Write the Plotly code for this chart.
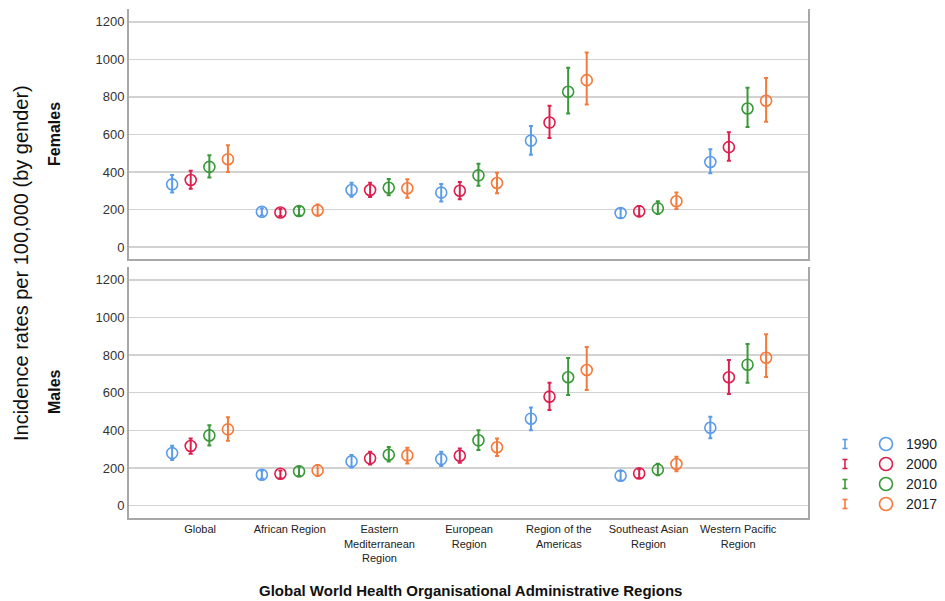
import plotly.graph_objects as go

# ---------------- data ----------------
regions = ["Global", "African Region", "Eastern<br>Mediterranean<br>Region",
           "European<br>Region", "Region of the<br>Americas",
           "Southeast Asian<br>Region", "Western Pacific<br>Region"]
years = ["1990", "2000", "2010", "2017"]
colors = ["#5b9be8", "#dc1f4e", "#3a983a", "#f47a3c"]
y_ticks = [0, 200, 400, 600, 800, 1000, 1200]

# Females (mean, lower CI, upper CI)
f1990 = [334, 188, 304, 290, 567, 181, 453]
f1990_lo = [290, 168, 268, 242, 492, 155, 393]
f1990_hi = [384, 206, 343, 336, 645, 206, 521]
f2000 = [357, 184, 304, 300, 663, 190, 532]
f2000_lo = [311, 166, 266, 254, 581, 164, 459]
f2000_hi = [407, 202, 343, 347, 752, 219, 612]
f2010 = [427, 192, 316, 382, 827, 206, 738]
f2010_lo = [370, 168, 276, 327, 711, 176, 640]
f2010_hi = [489, 215, 363, 444, 955, 244, 848]
f2017 = [468, 196, 313, 341, 889, 244, 779]
f2017_lo = [400, 167, 263, 286, 759, 203, 667]
f2017_hi = [542, 226, 361, 396, 1036, 290, 901]

# Males (mean, lower CI, upper CI)
m1990 = [279, 164, 235, 247, 462, 159, 414]
m1990_lo = [242, 143, 203, 210, 400, 134, 358]
m1990_hi = [318, 187, 269, 286, 522, 184, 472]
m2000 = [317, 169, 251, 265, 579, 171, 682]
m2000_lo = [276, 145, 219, 228, 508, 146, 593]
m2000_hi = [357, 187, 286, 304, 653, 193, 774]
m2010 = [373, 182, 270, 347, 682, 191, 749]
m2010_lo = [320, 157, 235, 295, 588, 161, 653]
m2010_hi = [427, 207, 311, 400, 785, 222, 859]
m2017 = [405, 187, 267, 310, 721, 221, 786]
m2017_lo = [345, 157, 224, 263, 615, 182, 684]
m2017_hi = [469, 216, 308, 357, 843, 260, 911]

females = [(f1990, f1990_lo, f1990_hi), (f2000, f2000_lo, f2000_hi),
           (f2010, f2010_lo, f2010_hi), (f2017, f2017_lo, f2017_hi)]
males = [(m1990, m1990_lo, m1990_hi), (m2000, m2000_lo, m2000_hi),
         (m2010, m2010_lo, m2010_hi), (m2017, m2017_lo, m2017_hi)]

# ---------------- figure ----------------
W, H = 945, 601
L, R, T, B = 129, 137, 9, 83
plot_w = W - L - R
plot_h = H - T - B

offsets = [-0.311, -0.104, 0.104, 0.311]
fig = go.Figure()

for panel, (data, xa, ya) in enumerate([(females, "x", "y"), (males, "x2", "y2")]):
    for k, (mean, lo, hi) in enumerate(data):
        xs = [i + offsets[k] for i in range(len(regions))]
        fig.add_trace(go.Scatter(
            x=xs, y=mean, xaxis=xa, yaxis=ya, mode="markers",
            name=years[k], showlegend=False,
            marker=dict(symbol="circle-open", size=11, color=colors[k],
                        line=dict(width=1.6, color=colors[k])),
            error_y=dict(type="data", symmetric=False,
                         array=[h - m for h, m in zip(hi, mean)],
                         arrayminus=[m - l for m, l in zip(mean, lo)],
                         color=colors[k], thickness=2, width=2),
        ))

xr = [-0.792, 6.778]
yr = [-66, 1268]
axis_line = "#a8a8a8"
grid = "#d2d2d2"
tickfont = dict(family="Liberation Sans, Arial, sans-serif", size=13, color="#333333")

common_y = dict(range=yr, tickvals=y_ticks, showgrid=True, gridcolor=grid, gridwidth=1.5,
                showline=True, linecolor=axis_line, linewidth=2, mirror=True,
                zeroline=False, ticks="", tickfont=tickfont, fixedrange=True)

fig.update_layout(
    width=W, height=H,
    margin=dict(l=L, r=R, t=T, b=B),
    paper_bgcolor="white", plot_bgcolor="white",
    xaxis=dict(domain=[0, 1], anchor="y", range=xr, showticklabels=False,
               showgrid=False, zeroline=False, showline=True, linecolor=axis_line,
               linewidth=2, ticks=""),
    xaxis2=dict(domain=[0, 1], anchor="y2", range=xr, tickvals=list(range(len(regions))),
                ticktext=regions, showgrid=False, zeroline=False, showline=True,
                linecolor=axis_line, linewidth=2, ticks="",
                tickfont=dict(family="Liberation Sans Narrow, Arial Narrow, Liberation Sans, sans-serif",
                              size=11, color="#222222")),
    yaxis=dict(domain=[0.508, 1], anchor="x", **common_y),
    yaxis2=dict(domain=[0, 0.493], anchor="x2", **common_y),
    showlegend=False,
)


def px_x(px):
    return (px - L) / plot_w


def px_y(py):
    return (H - B - py) / plot_h


annotations = [
    dict(text="Incidence rates per 100,000 (by gender)", x=px_x(21), y=px_y(263),
         textangle=-90, font=dict(family="Liberation Sans, Arial, sans-serif", size=20, color="#111111")),
    dict(text="<b>Females</b>", x=px_x(54), y=px_y(134), textangle=-90,
         font=dict(family="Liberation Sans, Arial, sans-serif", size=16, color="#111111")),
    dict(text="<b>Males</b>", x=px_x(54), y=px_y(392), textangle=-90,
         font=dict(family="Liberation Sans, Arial, sans-serif", size=16, color="#111111")),
    dict(text="<b>Global World Health Organisational Administrative Regions</b>",
         x=px_x(470), y=px_y(590),
         font=dict(family="Liberation Sans Narrow, Arial Narrow, Liberation Sans, sans-serif",
                   size=15, color="#111111")),
]
for a in annotations:
    a.update(xref="paper", yref="paper", showarrow=False, xanchor="center", yanchor="middle")

# legend (drawn manually: error-bar glyph, open circle, label)
shapes = []
legend_rows = [444, 464, 484, 504]
for k, row in enumerate(legend_rows):
    c = colors[k]
    base = dict(xref="paper", yref="paper", xsizemode="pixel", ysizemode="pixel",
                xanchor=px_x(845), yanchor=px_y(row))
    shapes.append(dict(type="line", x0=0, x1=0, y0=-4.5, y1=4.5, line=dict(color=c, width=1.6), **base))
    shapes.append(dict(type="line", x0=-2.5, x1=2.5, y0=4.5, y1=4.5, line=dict(color=c, width=1.6), **base))
    shapes.append(dict(type="line", x0=-2.5, x1=2.5, y0=-4.5, y1=-4.5, line=dict(color=c, width=1.6), **base))
    cb = dict(base)
    cb["xanchor"] = px_x(886)
    shapes.append(dict(type="circle", x0=-6.5, x1=6.5, y0=-6.5, y1=6.5,
                       line=dict(color=c, width=1.6), **cb))
    annotations.append(dict(text=years[k], x=px_x(904), y=px_y(row), xref="paper", yref="paper",
                            showarrow=False, xanchor="left", yanchor="middle",
                            font=dict(family="Liberation Sans, Arial, sans-serif", size=14, color="#222222")))

fig.update_layout(annotations=annotations, shapes=shapes)
fig.write_html("out.html", config={"displayModeBar": False, "staticPlot": True},
               post_script="document.body.style.margin='0';document.body.style.overflow='hidden';")
